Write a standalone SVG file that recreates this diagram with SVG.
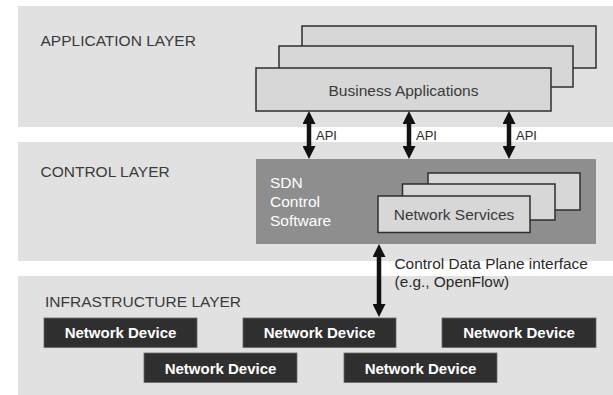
<svg xmlns="http://www.w3.org/2000/svg" width="613" height="395" viewBox="0 0 613 395">
  <style>
    .band { fill: #e1e1e1; }
    .layer-title { font-family: "Liberation Sans", Arial, sans-serif; font-size: 15.5px; fill: #3a3a3a; }
    .card { fill: #d7d7d7; stroke: #2e2e2e; stroke-width: 1.5; }
    .card-text { font-family: "Liberation Sans", Arial, sans-serif; font-size: 15.5px; fill: #3a3a3a; text-anchor: middle; }
    .controller { fill: #8e8e8e; }
    .controller-text { font-family: "Liberation Sans", Arial, sans-serif; font-size: 15.5px; fill: #ffffff; }
    .device { fill: #2f2f2f; stroke: #6a6a6a; stroke-width: 0.8; }
    .device-text { font-family: "Liberation Sans", Arial, sans-serif; font-size: 15px; font-weight: bold; fill: #ffffff; text-anchor: middle; }
    .link { stroke: #111111; stroke-width: 4.5; fill: none; marker-start: url(#head); marker-end: url(#head); }
    .link-label { font-family: "Liberation Sans", Arial, sans-serif; fill: #2a2a2a; }
  </style>
  <defs>
    <marker id="head" viewBox="0 0 13 13" markerWidth="13" markerHeight="13" markerUnits="userSpaceOnUse" refX="3" refY="6.5" orient="auto-start-reverse">
      <path d="M0,0 L13,6.5 L0,13 z" fill="#111111"/>
    </marker>
  </defs>

  <rect width="613" height="395" fill="#ffffff"/>

  <!-- layer bands -->
  <g id="application-layer">
    <rect class="band" x="18" y="6" width="595" height="121"/>
    <text class="layer-title" x="40.5" y="45.5">APPLICATION LAYER</text>
  </g>
  <g id="control-layer">
    <rect class="band" x="18" y="142" width="595" height="119"/>
    <text class="layer-title" x="40.5" y="177">CONTROL LAYER</text>
  </g>
  <g id="infrastructure-layer">
    <rect class="band" x="18" y="276" width="595" height="119"/>
    <text class="layer-title" x="45" y="306.5">INFRASTRUCTURE LAYER</text>
  </g>

  <!-- stacked business applications -->
  <g id="business-applications">
    <rect class="card" x="302" y="26" width="294" height="42"/>
    <rect class="card" x="279" y="46" width="294" height="41"/>
    <rect class="card" x="256" y="68" width="295" height="43"/>
    <text class="card-text" x="403.5" y="96">Business Applications</text>
  </g>

  <!-- SDN controller with network services -->
  <g id="sdn-control-software">
    <rect class="controller" x="256" y="159" width="340" height="85"/>
    <text class="controller-text" x="270" y="187.5">SDN</text>
    <text class="controller-text" x="270" y="206.5">Control</text>
    <text class="controller-text" x="270" y="225.5">Software</text>
  </g>
  <g id="network-services">
    <rect class="card" x="428" y="173" width="152" height="37"/>
    <rect class="card" x="402.5" y="184" width="152.5" height="36"/>
    <rect class="card" x="378" y="196" width="152" height="36.5"/>
    <text class="card-text" x="454" y="220">Network Services</text>
  </g>

  <!-- network devices -->
  <g id="device-1">
    <rect class="device" x="44" y="318" width="153" height="29.5"/>
    <text class="device-text" x="120.5" y="338.3">Network Device</text>
  </g>
  <g id="device-2">
    <rect class="device" x="243" y="318" width="153" height="29.5"/>
    <text class="device-text" x="319.5" y="338.3">Network Device</text>
  </g>
  <g id="device-3">
    <rect class="device" x="442" y="318" width="154" height="29.5"/>
    <text class="device-text" x="519" y="338.3">Network Device</text>
  </g>
  <g id="device-4">
    <rect class="device" x="144" y="353" width="153" height="29.5"/>
    <text class="device-text" x="220.5" y="373.5">Network Device</text>
  </g>
  <g id="device-5">
    <rect class="device" x="344" y="353" width="153" height="29.5"/>
    <text class="device-text" x="420.5" y="373.5">Network Device</text>
  </g>

  <!-- connectors -->
  <g id="connectors">
    <line class="link" x1="309" y1="121" x2="309" y2="149"/>
    <line class="link" x1="409" y1="121" x2="409" y2="149"/>
    <line class="link" x1="509" y1="121" x2="509" y2="149"/>
    <line class="link" x1="379" y1="254" x2="379" y2="307"/>
    <text class="link-label" font-size="13" x="316" y="140">API</text>
    <text class="link-label" font-size="13" x="416" y="140">API</text>
    <text class="link-label" font-size="13" x="516" y="140">API</text>
    <text class="link-label" font-size="15.4" x="394.5" y="268.5">Control Data Plane interface</text>
    <text class="link-label" font-size="15.4" x="394.5" y="287">(e.g., OpenFlow)</text>
  </g>
</svg>
